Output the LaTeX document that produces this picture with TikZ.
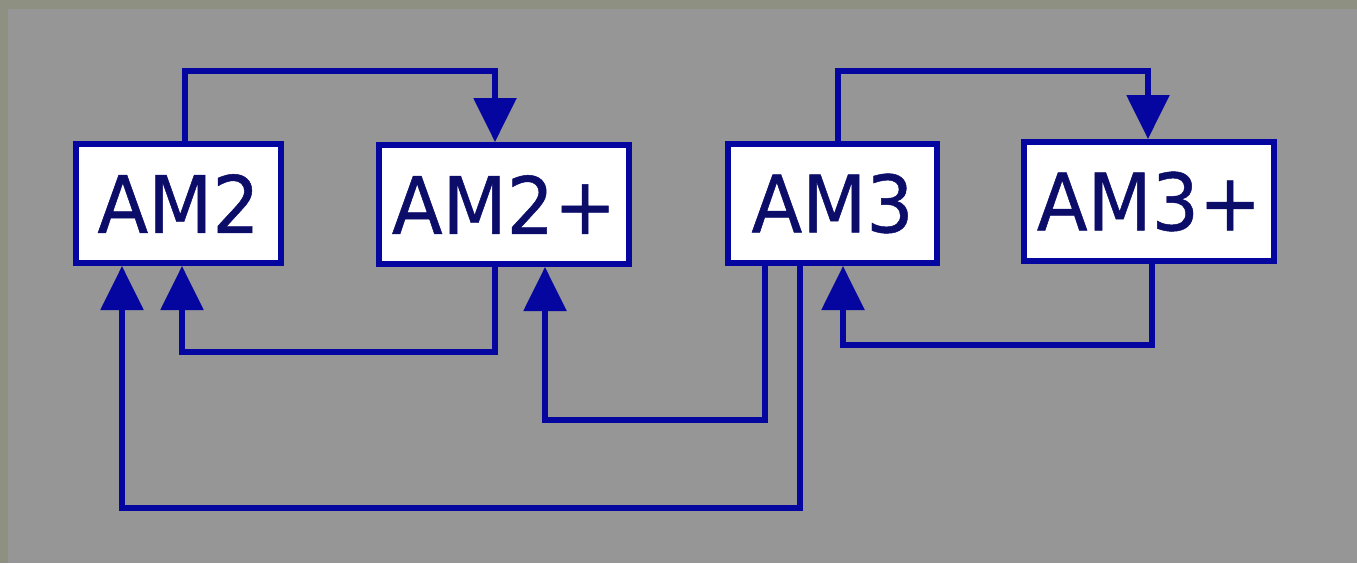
\documentclass[tikz,border=0pt]{standalone}
\usepackage{fontspec}
\usetikzlibrary{arrows.meta}
\newfontfamily\boxfont[FakeStretch=0.94,FakeBold=0.6]{DejaVu Sans}
\definecolor{frameol}{RGB}{142,145,130}
\definecolor{bggray}{RGB}{150,150,150}
\definecolor{linkblue}{RGB}{5,5,160}
\definecolor{txtnavy}{RGB}{12,12,105}
\tikzset{
  chipbox/.style={draw=linkblue, line width=6pt, fill=white, inner sep=0pt,
    minimum height=119pt, text=txtnavy, font=\boxfont\fontsize{79}{80}\selectfont},
  link/.style={draw=linkblue, line width=5.5pt, line cap=butt, line join=miter,
    -{Triangle[width=42pt,length=44pt]}},
}
\begin{document}
\begin{tikzpicture}[x=1pt,y=-1pt]
\useasboundingbox (0,0) rectangle (1357,563);
\fill[frameol] (0,0) rectangle (1357,563);
\fill[bggray] (8,9) rectangle (1357,563);
\node[chipbox, minimum width=205pt] (AM2) at (178.5,203.5) {AM2};
\node[chipbox, minimum width=250pt] (AM2p) at (504,204.5) {AM2+};
\node[chipbox, minimum width=209pt] (AM3) at (832.5,203.5) {AM3};
\node[chipbox, minimum width=250pt] (AM3p) at (1149,201.5) {AM3+};
% AM2 -> AM2+
\draw[link] (185,0 |- AM2.north) -- (185,71) -- (495,71) -- (495,0 |- AM2p.north);
% AM2+ -> AM2
\draw[link] (495,0 |- AM2p.south) -- (495,352) -- (182,352) -- (182,0 |- AM2.south);
% AM3 -> AM2+
\draw[link] (765,0 |- AM3.south) -- (765,420) -- (545,420) -- (545,0 |- AM2p.south);
% AM3 -> AM2
\draw[link] (800,0 |- AM3.south) -- (800,508) -- (122,508) -- (122,0 |- AM2.south);
% AM3 -> AM3+
\draw[link] (838,0 |- AM3.north) -- (838,71) -- (1148,71) -- (1148,0 |- AM3p.north);
% AM3+ -> AM3
\draw[link] (1152,0 |- AM3p.south) -- (1152,345) -- (843,345) -- (843,0 |- AM3.south);
\end{tikzpicture}
\end{document}
